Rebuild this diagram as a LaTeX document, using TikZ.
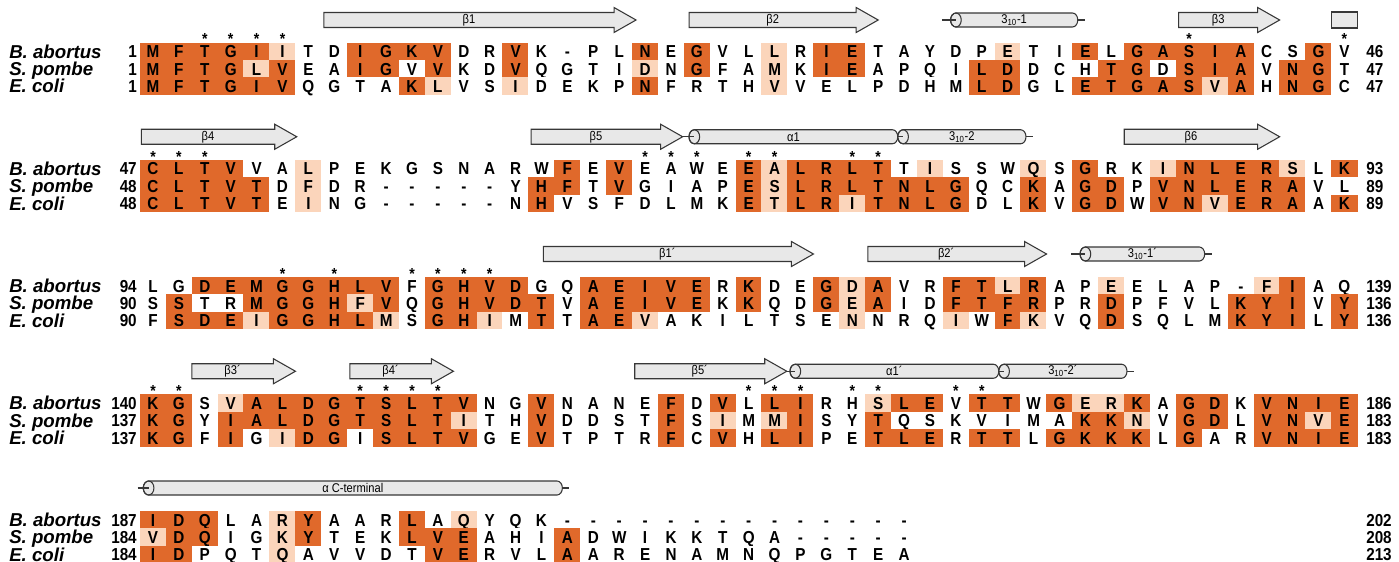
\documentclass[tikz,border=0pt]{standalone}
\usepackage{fontspec}
\setmainfont{Liberation Sans}
\newfontfamily\nfont[FakeStretch=0.88]{Liberation Sans}
\definecolor{cd}{RGB}{224,105,43}
\definecolor{cl}{RGB}{251,213,187}
\definecolor{cn}{RGB}{255,255,255}
\definecolor{ssf}{RGB}{232,232,232}
\definecolor{ssd}{RGB}{55,55,55}
\tikzset{
  res/.style={font=\nfont\bfseries\fontsize{13}{14}\selectfont, inner sep=0pt, text height=9.3pt, text depth=0pt},
  lab/.style={font=\bfseries\itshape\fontsize{14}{15}\selectfont, inner sep=0pt, anchor=west, text height=10pt, text depth=0pt},
  num/.style={font=\nfont\bfseries\fontsize{13}{14}\selectfont, inner sep=0pt, text height=9.3pt, text depth=0pt},
  starmark/.style={font=\nfont\bfseries\fontsize{12}{12}\selectfont, inner sep=0pt, text height=4pt, text depth=0pt},
  ssline/.style={draw=ssd, line width=0.8pt, line join=miter},
  sslab/.style={font=\nfont\fontsize{9.5}{10}\selectfont, inner sep=0pt}
}
\newcommand\colx[1]{153+(#1-1)*25.9}
\newcommand\resrow[3]{%
  \foreach \aa/\ss [count=\i] in {#3} {%
    \pgfmathsetmacro\cx{153+(\i-1)*25.9}%
    \fill[fill=c\ss] (\cx-13.15,#2-8.85) rectangle (\cx+13.15,#2+8.85);
    \node[res] (#1-\i) at (\cx,#2) {\aa};}}
\newcommand\rowlab[5]{%
  \node[lab] (#1-lab) at (9,#2) {#3};
  \node[num,anchor=east] (#1-s) at (137,#2) {#4};
  \node[num,anchor=west] (#1-e) at (1366,#2) {#5};}
\newcommand\starrow[3]{%
  \foreach \k in {#3} {\node[starmark] (#1-st\k) at ({153+(\k-1)*25.9},#2) {\raisebox{-4.6pt}{*}};}}
\newcommand\sstrand[5]{%
  \pgfmathsetmacro\xsa{153+(#2-1)*25.9}%
  \pgfmathsetmacro\xsb{153+(#3-1)*25.9}%
  \draw[ssline, fill=ssf] (\xsa,#4-7.5) -- (\xsb-22,#4-7.5) -- (\xsb-22,#4-12.5) -- (\xsb,#4) -- (\xsb-22,#4+12.5) -- (\xsb-22,#4+7.5) -- (\xsa,#4+7.5) -- cycle;
  \node[sslab] (#1) at ({(\xsa+\xsb-22)/2},#4) {#5};}
\newcommand\shelix[7]{%
  \pgfmathsetmacro\xha{153+(#2-1)*25.9}%
  \pgfmathsetmacro\xhb{153+(#3-1)*25.9}%
  \draw[ssline, fill=ssf] (\xha,#4-7) -- (\xhb,#4-7) arc[start angle=90,end angle=-90,x radius=4pt,y radius=5.25pt] -- (\xha,#4+7) arc[start angle=270,end angle=90,x radius=4pt,y radius=5.25pt] -- cycle;
  \draw[ssline] (\xha,#4) ellipse[x radius=4pt,y radius=5.25pt];
  \draw[ssline] (\xha-#6,#4) -- (\xha,#4);
  \draw[ssline] (\xhb+5.33,#4) -- (\xhb+5.33+#7,#4);
  \node[sslab] (#1) at ({(\xha+\xhb)/2},#4) {#5};}
\begin{document}
\begin{tikzpicture}[x=0.75pt,y=-0.75pt]
\useasboundingbox (0,0) rectangle (1399,561);
% ---------------- block 1
\sstrand{b1s1}{7.6}{19.65}{20}{β1}
\sstrand{b1s2}{21.7}{29}{20}{β2}
\shelix{b1h1}{32.0}{36.5}{20}{3\textsubscript{10}-1}{14}{7}
\sstrand{b1s3}{40.6}{44.5}{20}{β3}
\draw[ssline, fill=ssf] ({\colx{46.5}},12) rectangle ({\colx{47.5}},28);
\starrow{b1}{36}{3,4,5,6,41,47}
\resrow{b1a}{51.5}{M/d,F/d,T/d,G/d,I/d,I/l,T/n,D/n,I/d,G/d,K/d,V/d,D/n,R/n,V/d,K/n,-/n,P/n,L/n,N/d,E/n,G/d,V/n,L/n,L/l,R/n,I/d,E/d,T/n,A/n,Y/n,D/n,P/n,E/l,T/n,I/n,E/d,L/n,G/d,A/d,S/d,I/d,A/d,C/n,S/n,G/d,V/n}
\resrow{b1p}{68.8}{M/d,F/d,T/d,G/d,L/l,V/d,E/n,A/n,I/d,G/d,V/n,V/d,K/n,D/n,V/d,Q/n,G/n,T/n,I/n,D/l,N/n,G/d,F/n,A/n,M/l,K/n,I/d,E/d,A/n,P/n,Q/n,I/n,L/d,D/d,D/n,C/n,H/n,T/d,G/d,D/n,S/d,I/d,A/d,V/n,N/d,G/d,T/n}
\resrow{b1e}{86.1}{M/d,F/d,T/d,G/d,I/d,V/d,Q/n,G/n,T/n,A/n,K/d,L/l,V/n,S/n,I/l,D/n,E/n,K/n,P/n,N/d,F/n,R/n,T/n,H/n,V/l,V/n,E/n,L/n,P/n,D/n,H/n,M/n,L/d,D/d,G/n,L/n,E/d,T/d,G/d,A/d,S/d,V/l,A/d,H/n,N/d,G/d,C/n}
\rowlab{b1a}{51.5}{B. abortus}{1}{46}
\rowlab{b1p}{68.8}{S. pombe}{1}{47}
\rowlab{b1e}{86.1}{E. coli}{1}{47}
% ---------------- block 2
\sstrand{b2s4}{0.55}{6.55}{136.75}{β4}
\sstrand{b2s5}{15.6}{21.45}{136.75}{β5}
\shelix{b2h1}{21.9}{29.55}{136.75}{α1}{12}{0}
\shelix{b2h2}{29.96}{34.5}{136.75}{3\textsubscript{10}-2}{5.3}{7}
\sstrand{b2s6}{38.5}{44.5}{136.75}{β6}
\starrow{b2}{153.25}{1,2,3,20,21,22,24,25,28,29}
\resrow{b2a}{168.75}{C/d,L/d,T/d,V/d,V/n,A/n,L/l,P/n,E/n,K/n,G/n,S/n,N/n,A/n,R/n,W/n,F/d,E/n,V/d,E/n,A/n,W/n,E/n,E/d,A/l,L/d,R/d,L/d,T/d,T/n,I/l,S/n,S/n,W/n,Q/l,S/n,G/d,R/n,K/n,I/l,N/d,L/d,E/d,R/d,S/l,L/n,K/d}
\resrow{b2p}{186.05}{C/d,L/d,T/d,V/d,T/d,D/n,F/l,D/n,R/n,-/n,-/n,-/n,-/n,-/n,Y/n,H/d,F/d,T/n,V/d,G/n,I/n,A/n,P/n,E/d,S/l,L/d,R/d,L/d,T/d,N/d,L/d,G/d,Q/n,C/n,K/d,A/n,G/d,D/d,P/n,V/d,N/d,L/d,E/d,R/d,A/d,V/n,L/n}
\resrow{b2e}{203.35}{C/d,L/d,T/d,V/d,T/d,E/n,I/l,N/n,G/n,-/n,-/n,-/n,-/n,-/n,N/n,H/d,V/n,S/n,F/n,D/n,L/n,M/n,K/n,E/d,T/l,L/d,R/d,I/l,T/d,N/d,L/d,G/d,D/n,L/n,K/d,V/n,G/d,D/d,W/n,V/d,N/d,V/l,E/d,R/d,A/d,A/n,K/d}
\rowlab{b2a}{168.75}{B. abortus}{47}{93}
\rowlab{b2p}{186.05}{S. pombe}{48}{89}
\rowlab{b2e}{203.35}{E. coli}{48}{89}
% ---------------- block 3
\sstrand{b3s1}{16.07}{26.5}{254}{β1´}
\sstrand{b3s2}{28.6}{35.5}{254}{β2´}
\shelix{b3h1}{37.0}{41.4}{254}{3\textsubscript{10}-1´}{14}{7}
\starrow{b3}{270.5}{6,8,11,12,13,14}
\resrow{b3a}{286}{L/n,G/n,D/d,E/d,M/d,G/d,G/d,H/d,L/d,V/d,F/n,G/d,H/d,V/d,D/d,G/n,Q/n,A/d,E/d,I/d,V/d,E/d,R/n,K/d,D/n,E/n,G/d,D/l,A/d,V/n,R/n,F/d,T/d,L/l,R/d,A/n,P/n,E/l,E/n,L/n,A/n,P/n,-/n,F/l,I/d,A/n,Q/n}
\resrow{b3p}{303.3}{S/n,S/d,T/n,R/n,M/d,G/d,G/d,H/d,F/l,V/d,Q/n,G/d,H/d,V/d,D/d,T/d,V/n,A/d,E/d,I/d,V/d,E/d,K/n,K/d,Q/n,D/n,G/d,E/l,A/d,I/n,D/n,F/d,T/d,F/d,R/d,P/n,R/n,D/d,P/n,F/n,V/n,L/n,K/d,Y/d,I/d,V/n,Y/d}
\resrow{b3e}{320.6}{F/n,S/d,D/d,E/d,I/l,G/d,G/d,H/d,L/d,M/l,S/n,G/d,H/d,I/l,M/n,T/d,T/n,A/d,E/d,V/l,A/n,K/n,I/n,L/n,T/n,S/n,E/n,N/l,N/n,R/n,Q/n,I/l,W/n,F/d,K/l,V/n,Q/n,D/d,S/n,Q/n,L/n,M/n,K/d,Y/d,I/d,L/n,Y/d}
\rowlab{b3a}{286}{B. abortus}{94}{139}
\rowlab{b3p}{303.3}{S. pombe}{90}{136}
\rowlab{b3e}{320.6}{E. coli}{90}{136}
% ---------------- block 4
\sstrand{b4s3}{2.5}{6.5}{371.25}{β3´}
\sstrand{b4s4}{8.6}{12.6}{371.25}{β4´}
\sstrand{b4s5}{19.6}{25.47}{371.25}{β5´}
\shelix{b4h1}{25.8}{33.45}{371.25}{α1´}{9}{0}
\shelix{b4h2}{33.86}{38.4}{371.25}{3\textsubscript{10}-2´}{5.3}{7}
\starrow{b4}{387.75}{1,2,9,10,11,12,24,25,26,28,29,32,33}
\resrow{b4a}{403.25}{K/d,G/d,S/n,V/l,A/d,L/d,D/d,G/d,T/d,S/d,L/d,T/d,V/d,N/n,G/n,V/d,N/n,A/n,N/n,E/n,F/d,D/n,V/d,L/n,L/d,I/d,R/n,H/n,S/l,L/d,E/d,V/n,T/d,T/d,W/n,G/d,E/l,R/l,K/d,A/n,G/d,D/d,K/n,V/d,N/d,I/d,E/d}
\resrow{b4p}{420.55}{K/d,G/d,Y/n,I/d,A/d,L/d,D/d,G/d,T/d,S/d,L/d,T/d,I/l,T/n,H/n,V/d,D/n,D/n,S/n,T/n,F/d,S/n,I/l,M/n,M/l,I/d,S/n,Y/n,T/d,Q/n,S/n,K/n,V/n,I/n,M/n,A/n,K/d,K/d,N/l,V/n,G/d,D/d,L/n,V/d,N/d,V/l,E/d}
\resrow{b4e}{437.85}{K/d,G/d,F/n,I/d,G/n,I/l,D/d,G/d,I/n,S/d,L/d,T/d,V/d,G/n,E/n,V/d,T/n,P/n,T/n,R/n,F/d,C/n,V/d,H/n,L/d,I/d,P/n,E/n,T/d,L/d,E/d,R/n,T/d,T/d,L/n,G/d,K/d,K/d,K/d,L/n,G/d,A/n,R/n,V/d,N/d,I/d,E/d}
\rowlab{b4a}{403.25}{B. abortus}{140}{186}
\rowlab{b4p}{420.55}{S. pombe}{137}{183}
\rowlab{b4e}{437.85}{E. coli}{137}{183}
% ---------------- block 5
\shelix{b5h1}{0.83}{16.6}{488}{α C-terminal}{11}{7}
\resrow{b5a}{520}{I/d,D/d,Q/d,L/n,A/n,R/l,Y/d,A/n,A/n,R/n,L/d,A/n,Q/l,Y/n,Q/n,K/n,-/n,-/n,-/n,-/n,-/n,-/n,-/n,-/n,-/n,-/n,-/n,-/n,-/n,-/n}
\resrow{b5p}{537.3}{V/l,D/d,Q/d,I/n,G/n,K/l,Y/d,T/n,E/n,K/n,L/d,V/d,E/d,A/n,H/n,I/n,A/d,D/n,W/n,I/n,K/n,K/n,T/n,Q/n,A/n,-/n,-/n,-/n,-/n,-/n}
\resrow{b5e}{554.4}{I/d,D/d,P/n,Q/n,T/n,Q/l,A/n,V/n,V/n,D/n,T/n,V/d,E/d,R/n,V/n,L/n,A/d,A/n,R/n,E/n,N/n,A/n,M/n,N/n,Q/n,P/n,G/n,T/n,E/n,A/n}
\rowlab{b5a}{520}{B. abortus}{187}{202}
\rowlab{b5p}{537.3}{S. pombe}{184}{208}
\rowlab{b5e}{554.4}{E. coli}{184}{213}
\end{tikzpicture}
\end{document}
